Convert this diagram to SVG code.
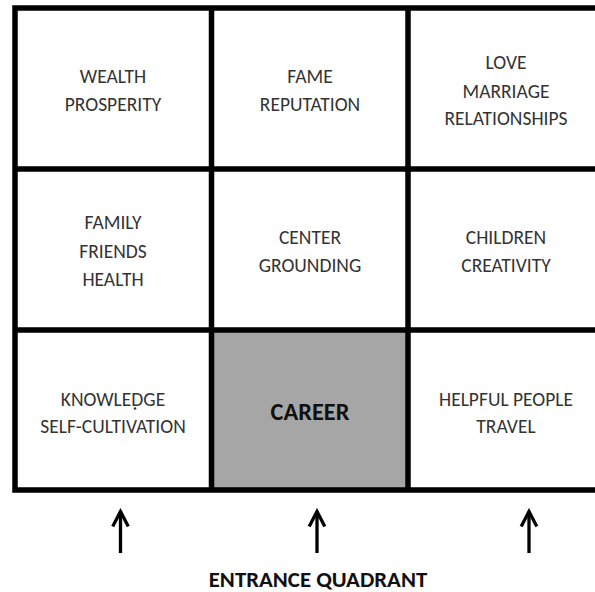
<svg xmlns="http://www.w3.org/2000/svg" width="595" height="592" viewBox="0 0 595 592">
  <style>
    .grid { fill: none; stroke: #000; stroke-width: 5.5; }
    .lbl { font-family: Carlito, "Liberation Sans", Arial, sans-serif; font-size: 19.5px; fill: #333; text-anchor: middle; }
    .bold { font-family: Carlito, "Liberation Sans", Arial, sans-serif; font-weight: bold; fill: #111; text-anchor: middle; }
    .arrow { stroke: #000; stroke-width: 3.3; fill: none; }
  </style>
  <defs>
    <marker id="head" markerUnits="userSpaceOnUse" viewBox="-20 -10 22 20" markerWidth="22" markerHeight="20" refX="0" refY="0" orient="auto" overflow="visible">
      <path d="M -15 -7.8 L 0 0 L -15 7.8" fill="none" stroke="#000" stroke-width="3.3" stroke-linejoin="miter"/>
    </marker>
  </defs>
  <rect width="595" height="592" fill="#fff"/>

  <g id="career-fill">
    <rect x="211.5" y="330" width="196.5" height="160" fill="#a6a6a6"/>
  </g>

  <g id="grid">
    <path class="grid" d="M 600 8 H 15 V 490 H 600"/>
    <path class="grid" d="M 211.5 8 V 490 M 408 8 V 490 M 15 169 H 600 M 15 330 H 600"/>
  </g>

  <g id="wealth">
    <text class="lbl" x="113" y="83">WEALTH</text>
    <text class="lbl" x="113" y="111">PROSPERITY</text>
  </g>
  <g id="fame">
    <text class="lbl" x="310" y="83">FAME</text>
    <text class="lbl" x="310" y="111">REPUTATION</text>
  </g>
  <g id="love">
    <text class="lbl" x="506" y="69">LOVE</text>
    <text class="lbl" x="506" y="97.5">MARRIAGE</text>
    <text class="lbl" x="506" y="125">RELATIONSHIPS</text>
  </g>
  <g id="family">
    <text class="lbl" x="113" y="229">FAMILY</text>
    <text class="lbl" x="113" y="258">FRIENDS</text>
    <text class="lbl" x="113" y="286">HEALTH</text>
  </g>
  <g id="center">
    <text class="lbl" x="310" y="244">CENTER</text>
    <text class="lbl" x="310" y="272">GROUNDING</text>
  </g>
  <g id="children">
    <text class="lbl" x="506" y="244">CHILDREN</text>
    <text class="lbl" x="506" y="272">CREATIVITY</text>
  </g>
  <g id="knowledge">
    <text class="lbl" x="113" y="406">KNOWLEDGE</text>
    <text class="lbl" x="113" y="433">SELF-CULTIVATION</text>
    <circle cx="135" cy="408.5" r="1.3" fill="#333"/>
  </g>
  <g id="career">
    <text class="bold" x="310" y="419.5" font-size="24.4">CAREER</text>
  </g>
  <g id="helpful">
    <text class="lbl" x="506" y="406">HELPFUL PEOPLE</text>
    <text class="lbl" x="506" y="433">TRAVEL</text>
  </g>

  <g id="connectors">
    <line class="arrow" x1="120.5" y1="553" x2="120.5" y2="511.5" marker-end="url(#head)"/>
    <line class="arrow" x1="317" y1="553" x2="317" y2="511.5" marker-end="url(#head)"/>
    <line class="arrow" x1="529" y1="553" x2="529" y2="511.5" marker-end="url(#head)"/>
  </g>

  <g id="entrance">
    <text class="bold" x="318" y="587" font-size="22.8">ENTRANCE QUADRANT</text>
  </g>
</svg>
